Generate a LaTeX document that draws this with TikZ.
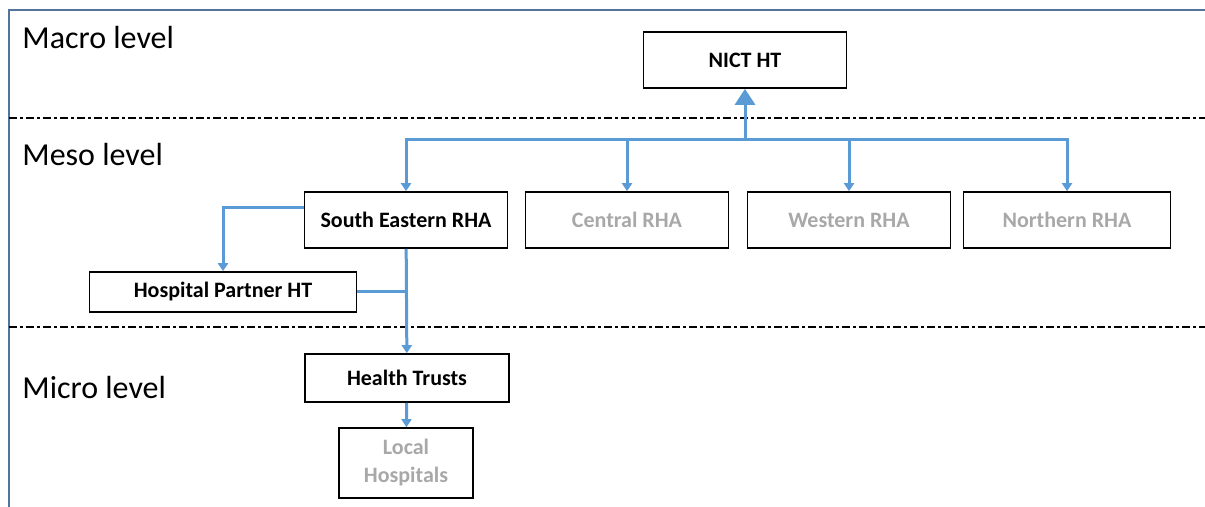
\documentclass[tikz,border=0pt]{standalone}
\usepackage{fontspec}
\setmainfont{Carlito}
\usetikzlibrary{arrows.meta}
\definecolor{linkblue}{RGB}{91,155,213}
\definecolor{frameblue}{RGB}{84,116,156}
\definecolor{fadedgrey}{RGB}{168,168,168}
\tikzset{
    unit/.style={draw, rectangle, line width=0.8pt, inner sep=0pt, minimum height=28pt,
        minimum width=101.5pt, font=\fontsize{11}{14}\selectfont\bfseries, align=center},
    faded/.style={text=fadedgrey},
    link/.style={draw=linkblue, line width=1.5pt},
    tolink/.style={link, -{Triangle[width=5pt,length=4pt]}},
    levelline/.style={line width=0.6pt, dash pattern=on 4pt off 1.5pt on 1.5pt off 1.5pt},
    levelname/.style={anchor=west, font=\fontsize{16}{18}\selectfont, inner sep=0pt}
}

\begin{document}
\begin{tikzpicture}[x=0.5pt, y=-0.5pt]
        \useasboundingbox (0,0) rectangle (1205,507);
        % frame and level borders
        \draw[frameblue, line width=1pt] (9,507) -- (9,10) -- (1205,10);
        \draw[levelline] (9,118) -- (1205,118);
        \draw[levelline] (9,327) -- (1205,327);
        \node (macro) [levelname] at (22,38) {Macro level};
        \node (meso) [levelname] at (22,155) {Meso level};
        \node (micro) [levelname] at (22,388) {Micro level};
        % boxes
        \node (nict) [unit] at (745,60) {NICT HT};
        \node (se) [unit] at (406,220) {South Eastern RHA};
        \node (central) [unit, faded] at (627,220) {Central RHA};
        \node (western) [unit, faded] at (849,220) {Western RHA};
        \node (northern) [unit, faded, minimum width=103.5pt] at (1067,220) {Northern RHA};
        \node (hpt) [unit, minimum width=133.5pt, minimum height=20pt] at (223,292) {Hospital Partner HT};
        \node (ht) [unit, minimum width=102pt, minimum height=24pt] at (407,378) {Health Trusts};
        \node (lh) [unit, faded, minimum width=67pt, minimum height=35pt] at (406,463) {Local\\Hospitals};
        \coordinate (hub) at (745,140);
        % connectors
        \draw[link, -{Triangle[width=10pt,length=8pt]}] (hub) -- (nict);
        \draw[tolink] (hub) -| (se);
        \draw[tolink] (hub) -| (central);
        \draw[tolink] (hub) -| (western);
        \draw[tolink] (hub) -| (northern);
        \draw[tolink] ([yshift=6pt]se.west) -| (hpt);
        \draw[tolink] (se) -- (ht);
        \draw[link] (hpt.east) -- (se.south |- hpt.east);
        \draw[tolink] (ht) -- (lh);
\end{tikzpicture}
\end{document}
